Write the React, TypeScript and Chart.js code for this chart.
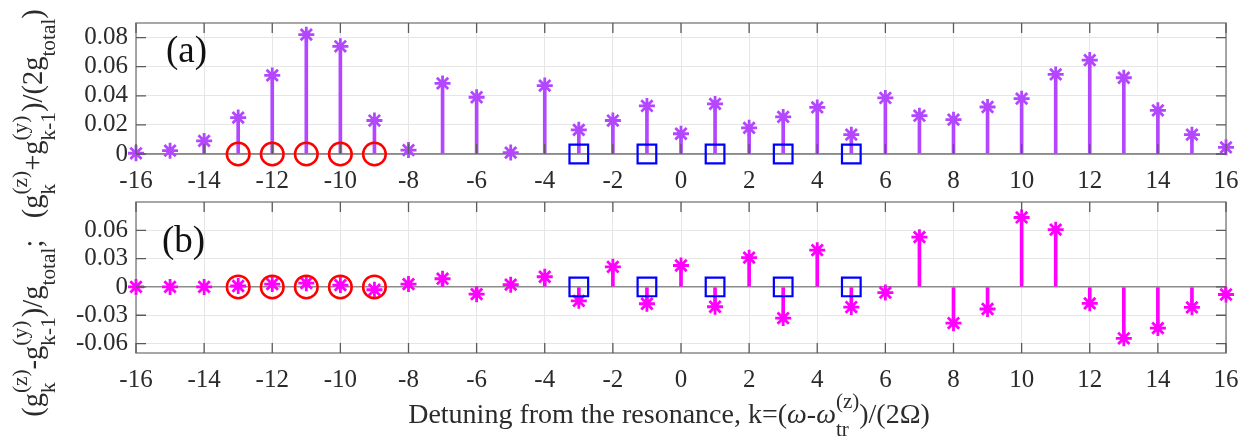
import React, { useEffect, useRef } from "react";
import { Chart, registerables } from "chart.js";

Chart.register(...registerables);

// ---------------- data ----------------
const kValues = [-16, -15, -14, -13, -12, -11, -10, -9, -8, -7, -6, -5, -4, -3, -2, -1, 0, 1, 2, 3, 4, 5, 6, 7, 8, 9, 10, 11, 12, 13, 14, 15, 16];
const sumValues = [0.0005, 0.0023, 0.009, 0.025, 0.054, 0.082, 0.074, 0.023, 0.0027, 0.0485, 0.039, 0.001, 0.047, 0.0166, 0.023, 0.033, 0.0139, 0.0344, 0.018, 0.0255, 0.032, 0.0133, 0.0385, 0.0263, 0.0236, 0.0323, 0.038, 0.0547, 0.0645, 0.0524, 0.03, 0.0133, 0.0046];
const diffValues = [0, 0, 0, 0.001, 0.003, 0.004, 0.002, -0.003, 0.003, 0.0087, -0.0077, 0.0024, 0.0108, -0.0147, 0.0213, -0.0178, 0.0227, -0.021, 0.031, -0.033, 0.039, -0.0213, -0.006, 0.0527, -0.0384, -0.0234, 0.0736, 0.0607, -0.0174, -0.0544, -0.0436, -0.0216, -0.008];
const circleK = [-13, -12, -11, -10, -9];
const squareK = [-3, -1, 1, 3, 5];
const xTickValues = [-16, -14, -12, -10, -8, -6, -4, -2, 0, 2, 4, 6, 8, 10, 12, 14, 16];
const yTicksA = [0, 0.02, 0.04, 0.06, 0.08];
const yTicksB = [-0.06, -0.03, 0, 0.03, 0.06];

const PURPLE = "#b347ff";
const MAGENTA = "#ff00ff";
const FONT = "'Liberation Serif','Times New Roman',serif";
const TEXT = "#2b2b2b";

// ---------------- rich text ----------------
type Tok = { t?: string; it?: boolean; sub?: string; sup?: string };
const SS = 0.75;
const SUB_DY = 0.45;
const SUP_DY = 0.52;

function fontStr(size: number, it?: boolean) {
  return `${it ? "italic " : ""}${size}px ${FONT}`;
}
function measureRich(ctx: CanvasRenderingContext2D, toks: Tok[], size: number) {
  let w = 0;
  for (const tk of toks) {
    if (tk.t !== undefined) {
      ctx.font = fontStr(size, tk.it);
      w += ctx.measureText(tk.t).width;
    } else {
      ctx.font = fontStr(size * SS);
      w += Math.max(ctx.measureText(tk.sub || "").width, ctx.measureText(tk.sup || "").width);
    }
  }
  return w;
}
function drawRich(ctx: CanvasRenderingContext2D, toks: Tok[], x: number, y: number, size: number) {
  ctx.textAlign = "left";
  ctx.textBaseline = "alphabetic";
  let cx = x;
  for (const tk of toks) {
    if (tk.t !== undefined) {
      ctx.font = fontStr(size, tk.it);
      ctx.fillText(tk.t, cx, y);
      cx += ctx.measureText(tk.t).width;
    } else {
      ctx.font = fontStr(size * SS);
      const ws = ctx.measureText(tk.sub || "").width;
      const wp = ctx.measureText(tk.sup || "").width;
      if (tk.sub) ctx.fillText(tk.sub, cx, y + SUB_DY * size);
      if (tk.sup) ctx.fillText(tk.sup, cx, y - SUP_DY * size);
      cx += Math.max(ws, wp);
    }
  }
}

const xTitle: Tok[] = [
  { t: "Detuning from the resonance, k=(" },
  { t: "\u03c9", it: true },
  { t: "-" },
  { t: "\u03c9", it: true },
  { sub: "tr", sup: "(z)" },
  { t: ")/(2\u03a9)" },
];
const yTitle: Tok[] = [
  { t: "(g" },
  { sub: "k", sup: "(z)" },
  { t: "-g" },
  { sub: "k-1", sup: "(y)" },
  { t: ")/g" },
  { sub: "total", sup: "" },
  { t: ";   (g" },
  { sub: "k", sup: "(z)" },
  { t: "+g" },
  { sub: "k-1", sup: "(y)" },
  { t: ")/(2g" },
  { sub: "total", sup: "" },
  { t: ")" },
];

// ---------------- plugins ----------------
function axesPlugin(yTicks: number[]) {
  return {
    id: "matlabAxes",
    beforeDatasetsDraw(chart: any) {
      const { left, right, top, bottom } = chart.chartArea;
      const ctx = chart.ctx;
      ctx.save();
      ctx.strokeStyle = "#8a8a8a";
      ctx.lineWidth = 1.5;
      ctx.strokeRect(left, top, right - left, bottom - top);
      ctx.restore();
    },
    afterDatasetsDraw(chart: any) {
      const { left, right, top, bottom } = chart.chartArea;
      const ctx = chart.ctx;
      const xs = chart.scales.x;
      const ys = chart.scales.y;
      const L = 10;
      ctx.save();
      ctx.strokeStyle = "#5a5a5a";
      ctx.lineWidth = 1.3;
      ctx.beginPath();
      for (const v of xTickValues) {
        const px = xs.getPixelForValue(v);
        ctx.moveTo(px, bottom);
        ctx.lineTo(px, bottom - L);
        ctx.moveTo(px, top);
        ctx.lineTo(px, top + L);
      }
      for (const v of yTicks) {
        const py = ys.getPixelForValue(v);
        ctx.moveTo(left, py);
        ctx.lineTo(left + L, py);
        ctx.moveTo(right, py);
        ctx.lineTo(right - L, py);
      }
      ctx.stroke();
      ctx.restore();
    },
  };
}

function panelLabelPlugin(label: string, x: number, y: number) {
  return {
    id: "panelLabel",
    afterDraw(chart: any) {
      const ctx = chart.ctx;
      ctx.save();
      ctx.fillStyle = "#111";
      ctx.font = `37px ${FONT}`;
      ctx.textAlign = "left";
      ctx.textBaseline = "alphabetic";
      ctx.fillText(label, x, y);
      ctx.restore();
    },
  };
}

const titlesPlugin = {
  id: "titles",
  afterDraw(chart: any) {
    const ctx = chart.ctx;
    ctx.save();
    ctx.fillStyle = TEXT;
    // x title
    const xs = 28;
    const wx = measureRich(ctx, xTitle, xs);
    drawRich(ctx, xTitle, 669 - wx / 2, 423, xs);
    // y title (rotated)
    const ysz = 28.5;
    const wy = measureRich(ctx, yTitle, ysz);
    ctx.translate(42, 213 + wy / 2);
    ctx.rotate(-Math.PI / 2);
    drawRich(ctx, yTitle, 0, 0, ysz);
    ctx.restore();
  },
};

// ---------------- config ----------------
function makeConfig(p: {
  values: number[];
  color: string;
  yMin: number;
  yMax: number;
  yTicks: number[];
  padding: any;
  xHeight: number;
  zeroColor: string;
  plugins: any[];
}) {
  const pts = kValues.map((k, i) => ({ x: k, y: p.values[i] }));
  const circ = circleK.map((k) => ({ x: k, y: 0 }));
  const sq = squareK.map((k) => ({ x: k, y: 0 }));
  const tickFont = { family: FONT, size: 25 };
  return {
    type: "scatter",
    data: {
      datasets: [
        {
          type: "scatter",
          data: circ,
          order: 1,
          pointStyle: "circle",
          pointRadius: 11.3,
          borderWidth: 2.5,
          borderColor: "#ff0000",
          backgroundColor: "rgba(0,0,0,0)",
          showLine: false,
          clip: false,
        },
        {
          type: "scatter",
          data: sq,
          order: 1,
          pointStyle: "rect",
          pointRadius: 13.2,
          borderWidth: 2.2,
          borderColor: "#0000ff",
          backgroundColor: "rgba(0,0,0,0)",
          showLine: false,
          clip: false,
        },
        {
          type: "scatter",
          data: pts,
          order: 2,
          pointStyle: "star",
          pointRadius: 8,
          borderWidth: 2.8,
          borderColor: p.color,
          backgroundColor: p.color,
          showLine: false,
          clip: false,
        },
        {
          type: "bar",
          data: pts,
          order: 3,
          backgroundColor: p.color,
          borderWidth: 0,
          barThickness: 3,
        },
      ],
    },
    options: {
      responsive: false,
      animation: false,
      events: [],
      layout: { padding: p.padding },
      plugins: { legend: { display: false }, tooltip: { enabled: false }, title: { display: false } },
      scales: {
        x: {
          type: "linear",
          min: -16,
          max: 16,
          offset: false,
          afterBuildTicks: (s: any) => {
            s.ticks = xTickValues.map((v) => ({ value: v }));
          },
          afterFit: (s: any) => {
            s.height = p.xHeight;
          },
          grid: { color: "#e6e6e6", lineWidth: 1, drawTicks: false, offset: false },
          border: { display: false },
          ticks: {
            font: tickFont,
            color: TEXT,
            padding: 12,
            maxRotation: 0,
            autoSkip: false,
            callback: (v: any) => String(v),
          },
        },
        y: {
          type: "linear",
          min: p.yMin,
          max: p.yMax,
          afterBuildTicks: (s: any) => {
            s.ticks = p.yTicks.map((v) => ({ value: v }));
          },
          afterFit: (s: any) => {
            s.width = 136;
          },
          grid: {
            color: (c: any) => (c.tick && c.tick.value === 0 ? p.zeroColor : "#e6e6e6"),
            lineWidth: (c: any) => (c.tick && c.tick.value === 0 ? 1.5 : 1),
            drawTicks: false,
          },
          border: { display: false },
          ticks: {
            font: tickFont,
            color: TEXT,
            padding: 8,
            autoSkip: false,
            callback: (v: any) => (v === 0 ? "0" : String(v)),
          },
        },
      },
    },
    plugins: p.plugins,
  } as any;
}

export default function App() {
  const topRef = useRef<HTMLCanvasElement>(null);
  const botRef = useRef<HTMLCanvasElement>(null);

  useEffect(() => {
    const c1 = new Chart(
      topRef.current!,
      makeConfig({
        values: sumValues,
        color: PURPLE,
        yMin: 0,
        yMax: 0.09,
        yTicks: yTicksA,
        padding: { left: 0, right: 32, top: 10, bottom: 0 },
        xHeight: 36,
        zeroColor: "#8a8a8a",
        plugins: [axesPlugin(yTicksA), panelLabelPlugin("(a)", 166, 62)],
      })
    );
    const c2 = new Chart(
      botRef.current!,
      makeConfig({
        values: diffValues,
        color: MAGENTA,
        yMin: -0.07,
        yMax: 0.09,
        yTicks: yTicksB,
        padding: { left: 0, right: 32, top: 202, bottom: 59 },
        xHeight: 36,
        zeroColor: "#8c8c8c",
        plugins: [axesPlugin(yTicksB), panelLabelPlugin("(b)", 162, 252), titlesPlugin],
      })
    );
    return () => {
      c1.destroy();
      c2.destroy();
    };
  }, []);

  return (
    <div style={{ position: "absolute", left: 0, top: 0, width: 1258, height: 448, background: "#fff" }}>
      <canvas ref={botRef} width={1258} height={448} style={{ position: "absolute", left: 0, top: 0 }} />
      <canvas ref={topRef} width={1258} height={190} style={{ position: "absolute", left: 0, top: 0 }} />
    </div>
  );
}
